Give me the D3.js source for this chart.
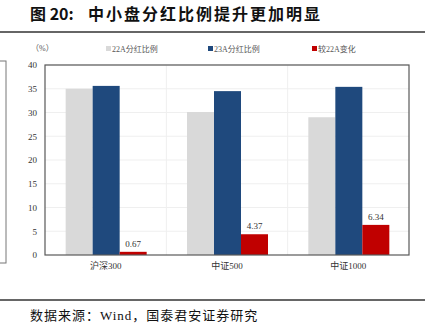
<!DOCTYPE html>
<html><head><meta charset="utf-8">
<script src="https://cdn.jsdelivr.net/npm/d3@7"></script>
<style>body{margin:0;background:#fff;}svg{display:block;}</style>
</head><body>
<script>
const categories = ["沪深300", "中证500", "中证1000"];
const seriesNames = ["22A分红比例", "23A分红比例", "较22A变化"];
const v22A = [35.0, 30.1, 29.0];
const v23A = [35.6, 34.5, 35.4];
const vChange = [0.67, 4.37, 6.34];
const yTicks = [0, 5, 10, 15, 20, 25, 30, 35, 40];
const colors = ["#d9d9d9", "#1f497d", "#c00000"];

const W = 430, H = 335;
const svg = d3.select("body").append("svg").attr("width", W).attr("height", H);
const serif = "'Liberation Serif','Noto Sans CJK SC',serif";

// title
const t = svg.append("text").attr("y", 20).attr("font-family", "'Noto Sans CJK SC',sans-serif")
  .attr("font-weight", "bold").attr("font-size", 16).attr("fill", "#111");
t.append("tspan").attr("x", 30).text("图 20:");
t.append("tspan").attr("x", 88).attr("letter-spacing", 2).text("中小盘分红比例提升更加明显");
svg.append("line").attr("x1", 0).attr("x2", 425).attr("y1", 32).attr("y2", 32)
  .attr("stroke", "#333").attr("stroke-width", 1.5);
svg.append("line").attr("x1", 0).attr("x2", 425).attr("y1", 300).attr("y2", 300)
  .attr("stroke", "#333").attr("stroke-width", 1.5);
svg.append("text").attr("x", 30).attr("y", 320).attr("font-family", serif)
  .attr("font-size", 13).attr("letter-spacing", 1).attr("fill", "#111").text("数据来源：Wind，国泰君安证券研究");

// left partial panel
svg.append("rect").attr("x", -2).attr("y", 61).attr("width", 8).attr("height", 202)
  .attr("fill", "none").attr("stroke", "#777").attr("stroke-width", 1);

const m = {l: 45, r: 409, t: 65, b: 255};
const x0 = d3.scaleBand().domain(categories).range([m.l, m.r]);
const x1 = d3.scaleBand().domain(seriesNames).range([0, 81]);
const y = d3.scaleLinear().domain([0, 40]).range([m.b, m.t]);

const g = svg.append("g");
// gridlines
g.selectAll(".hg").data(yTicks.slice(1)).enter().append("line")
  .attr("x1", m.l).attr("x2", m.r).attr("y1", d => y(d)).attr("y2", d => y(d))
  .attr("stroke", "#efefef").attr("stroke-width", 1);
g.selectAll(".vg").data(categories.slice(1)).enter().append("line")
  .attr("x1", d => x0(d)).attr("x2", d => x0(d)).attr("y1", m.t).attr("y2", m.b)
  .attr("stroke", "#efefef").attr("stroke-width", 1);

const data = categories.map((c, i) => ({c, vals: [v22A[i], v23A[i], vChange[i]]}));
const off = (x0.bandwidth() - 81) / 2 + 0.5;
const grp = g.selectAll(".grp").data(data).enter().append("g")
  .attr("transform", d => `translate(${x0(d.c) + off},0)`);
grp.selectAll("rect").data(d => d.vals.map((v, j) => ({v, j}))).enter().append("rect")
  .attr("x", d => x1(seriesNames[d.j])).attr("width", x1.bandwidth())
  .attr("y", d => y(d.v)).attr("height", d => y(0) - y(d.v))
  .attr("fill", d => colors[d.j]);
grp.append("text").attr("x", x1(seriesNames[2]) + x1.bandwidth() / 2)
  .attr("y", d => y(d.vals[2]) - 5).attr("text-anchor", "middle")
  .attr("font-family", serif).attr("font-size", 9).attr("fill", "#333")
  .text(d => d.vals[2].toFixed(2));

// frame
svg.append("rect").attr("x", m.l).attr("y", m.t).attr("width", m.r - m.l).attr("height", m.b - m.t)
  .attr("fill", "none").attr("stroke", "#595959").attr("stroke-width", 1.2);

// y axis
const ya = svg.append("g").attr("transform", `translate(${m.l},0)`)
  .call(d3.axisLeft(y).tickValues(yTicks).tickSize(0).tickPadding(8));
ya.select(".domain").remove();
ya.selectAll("text").attr("font-family", serif).attr("font-size", 9).attr("fill", "#333");

// x axis
const xa = svg.append("g").attr("transform", `translate(0,${m.b})`)
  .call(d3.axisBottom(x0).tickSize(0).tickPadding(8));
xa.select(".domain").remove();
xa.selectAll("text").attr("font-family", serif).attr("font-size", 9).attr("fill", "#333");

// unit
svg.append("text").attr("x", 31).attr("y", 51).attr("font-family", serif).attr("font-size", 8)
  .attr("fill", "#555").text("（%）");

// legend
const legX = [106, 208, 312];
seriesNames.forEach((s, i) => {
  svg.append("rect").attr("x", legX[i]).attr("y", 46).attr("width", 5).attr("height", 5).attr("fill", colors[i]);
  svg.append("text").attr("x", legX[i] + 6).attr("y", 52).attr("font-family", serif)
    .attr("font-size", 8).attr("fill", "#555").text(s);
});
</script>
</body></html>
